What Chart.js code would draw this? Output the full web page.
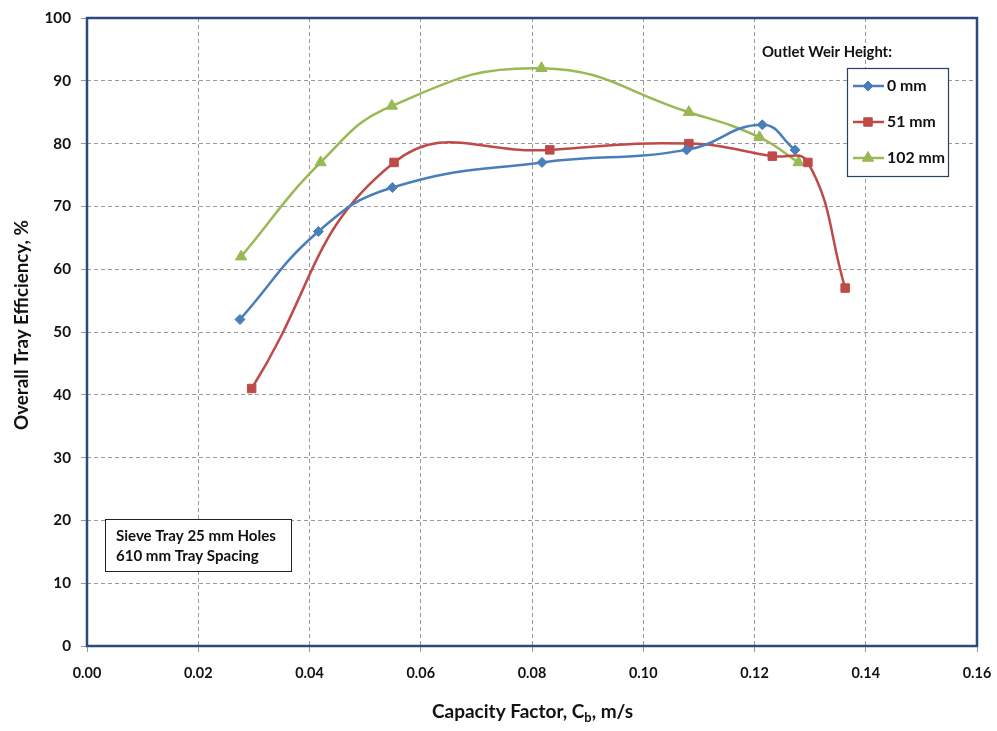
<!DOCTYPE html>
<html><head><meta charset="utf-8">
<script src="https://cdn.jsdelivr.net/npm/chart.js@4"></script>
<style>html,body{margin:0;padding:0;background:#fff}#wrap{width:997px;height:731px}</style>
</head><body><div id="wrap"><canvas id="c" width="997" height="731"></canvas></div>
<script>
const seriesLabels = ['0 mm', '51 mm', '102 mm'];
const x0mm = [0.0275, 0.0416, 0.0549, 0.0818, 0.1078, 0.1214, 0.1273];
const y0mm = [52, 66, 73, 77, 79, 83, 79];
const x51mm = [0.0296, 0.0552, 0.0832, 0.1082, 0.1232, 0.1296, 0.1363];
const y51mm = [41, 77, 79, 80, 78, 77, 57];
const x102mm = [0.0277, 0.0420, 0.0548, 0.0817, 0.1082, 0.1209, 0.1279];
const y102mm = [62, 77, 86, 92, 85, 81, 77];
const xTicks = [0, 0.02, 0.04, 0.06, 0.08, 0.10, 0.12, 0.14, 0.16];
const yTicks = [0, 10, 20, 30, 40, 50, 60, 70, 80, 90, 100];
const xTitle = ['Capacity Factor, C', 'b', ', m/s'];
const yTitle = 'Overall Tray Efficiency, %';
const legendTitle = 'Outlet Weir Height:';
const noteLines = ['Sieve Tray 25 mm Holes', '610 mm Tray Spacing'];

const FONT = 'Lato, "Open Sans", sans-serif';
// pick a font size whose text width matches the width measured in the reference
const mctx = document.createElement('canvas').getContext('2d');
function fit(text, target) {
  mctx.font = 'bold 20px ' + FONT;
  return 20 * target / mctx.measureText(text).width;
}
const sTickY = fit('100', 26.5);
const sTickX = fit('0.10', 28.5);
const sYTitle = fit(yTitle, 210);
const sLegTitle = fit(legendTitle, 130);
const sLeg = fit('102 mm', 58);
const sNote = fit(noteLines[0], 160);

const pts = (xs, ys) => xs.map((x, i) => ({x, y: ys[i]}));
const colors = ['#4a7ebb', '#be4b48', '#98b954'];
const styles = ['rectRot', 'rect', 'triangle'];
const radii = [5, 6, 6.5];
const data = [pts(x0mm, y0mm), pts(x51mm, y51mm), pts(x102mm, y102mm)];

const decor = {
  id: 'decor',
  afterDraw(chart) {
    const ctx = chart.ctx, a = chart.chartArea;
    ctx.save();
    ctx.strokeStyle = '#2b4a80'; ctx.lineWidth = 2.5;
    ctx.strokeRect(a.left, a.top, a.right - a.left, a.bottom - a.top);
    ctx.fillStyle = '#111';
    ctx.font = 'bold ' + sYTitle + 'px ' + FONT;
    ctx.textAlign = 'center'; ctx.textBaseline = 'middle';
    ctx.translate(22, 325);
    ctx.rotate(-Math.PI / 2);
    ctx.fillText(yTitle, 0, 0);
    ctx.restore();
    ctx.save();
    ctx.fillStyle = '#111';
    ctx.textBaseline = 'alphabetic';
    let s1 = 16;
    for (let k = 0; k < 2; k++) {
      ctx.font = 'bold ' + s1 + 'px ' + FONT;
      const w = ctx.measureText(xTitle[0] + xTitle[2]).width;
      ctx.font = 'bold ' + (s1 * 0.68) + 'px ' + FONT;
      const wb = ctx.measureText(xTitle[1]).width;
      s1 = s1 * 201 / (w + wb);
    }
    const f1 = 'bold ' + s1 + 'px ' + FONT, f2 = 'bold ' + (s1 * 0.68) + 'px ' + FONT;
    ctx.font = f1; const w1 = ctx.measureText(xTitle[0]).width, w3 = ctx.measureText(xTitle[2]).width;
    ctx.font = f2; const w2 = ctx.measureText(xTitle[1]).width;
    let sx = 432; const by = 718;
    ctx.textAlign = 'left';
    ctx.font = f1; ctx.fillText(xTitle[0], sx, by); sx += w1;
    ctx.font = f2; ctx.fillText(xTitle[1], sx, by + 4); sx += w2;
    ctx.font = f1; ctx.fillText(xTitle[2], sx, by);
    ctx.font = 'bold ' + sLegTitle + 'px ' + FONT;
    ctx.textBaseline = 'middle';
    ctx.fillText(legendTitle, 762, 52);
    ctx.fillStyle = '#fff';
    ctx.fillRect(847, 68, 101, 108);
    ctx.strokeStyle = '#2b3e66'; ctx.lineWidth = 1.2;
    ctx.strokeRect(847.5, 68.5, 101, 108);
    chart.data.datasets.forEach((ds, i) => {
      const y = 86 + i * 36;
      ctx.strokeStyle = ds.borderColor; ctx.lineWidth = 2.5;
      ctx.beginPath(); ctx.moveTo(853, y); ctx.lineTo(884, y); ctx.stroke();
      ctx.fillStyle = ds.borderColor; ctx.lineWidth = 1;
      Chart.helpers.drawPoint(ctx, {pointStyle: ds.pointStyle, radius: ds.pointRadius, borderWidth: 1, rotation: 0}, 868, y);
      ctx.fillStyle = '#111';
      ctx.font = 'bold ' + sLeg + 'px ' + FONT; ctx.textBaseline = 'middle';
      ctx.fillText(ds.label, 887, y);
    });
    ctx.fillStyle = '#fff';
    ctx.fillRect(105, 519, 186, 52);
    ctx.strokeStyle = '#222'; ctx.lineWidth = 1;
    ctx.strokeRect(105.5, 519.5, 186, 52);
    ctx.fillStyle = '#111'; ctx.font = 'bold ' + sNote + 'px ' + FONT; ctx.textBaseline = 'middle';
    noteLines.forEach((t, i) => ctx.fillText(t, 116, 536 + i * 20));
    ctx.restore();
  }
};

new Chart(document.getElementById('c'), {
  type: 'scatter',
  data: {
    datasets: data.map((d, i) => ({
      label: seriesLabels[i], data: d, showLine: true,
      borderColor: colors[i], backgroundColor: colors[i],
      pointStyle: styles[i], pointRadius: radii[i], pointHoverRadius: radii[i],
      pointBorderWidth: 1, borderWidth: 2.5, tension: 0.45
    }))
  },
  options: {
    responsive: false, animation: false,
    layout: {padding: {top: 18, right: 0, left: 0, bottom: 0}},
    plugins: {legend: {display: false}, tooltip: {enabled: false}},
    scales: {
      x: {
        type: 'linear', min: 0, max: 0.16,
        afterBuildTicks: s => { s.ticks = xTicks.map(v => ({value: v})); },
        afterFit: s => { s.height = 85; s.paddingRight = 20; s.paddingLeft = 0; },
        grid: {color: '#9a9a9a', lineWidth: 1, tickLength: 6, tickColor: '#9a9a9a'},
        border: {display: false, dash: [4, 3]},
        ticks: {color: '#111', font: {family: FONT, size: sTickX, weight: 'bold'}, padding: 13,
          callback: v => v.toFixed(2)}
      },
      y: {
        min: 0, max: 100,
        afterBuildTicks: s => { s.ticks = yTicks.map(v => ({value: v})); },
        afterFit: s => { s.width = 87; s.paddingTop = 18; s.paddingBottom = 0; },
        grid: {color: '#9a9a9a', lineWidth: 1, tickLength: 6, tickColor: '#9a9a9a'},
        border: {display: false, dash: [4, 3]},
        ticks: {color: '#111', font: {family: FONT, size: sTickY, weight: 'bold'}, padding: 10}
      }
    }
  },
  plugins: [decor]
});
</script></body></html>
